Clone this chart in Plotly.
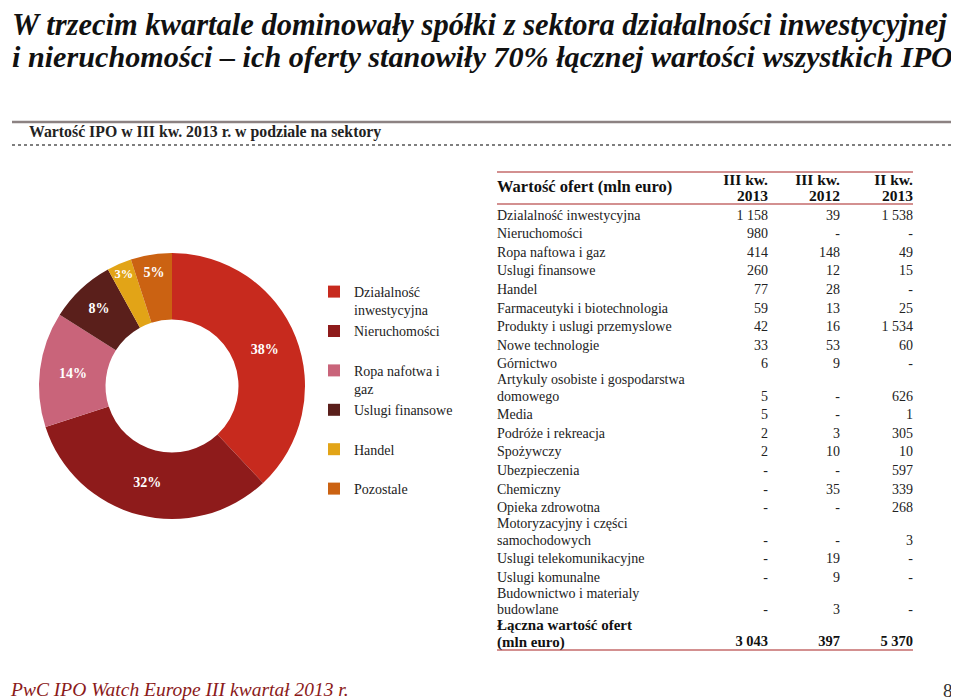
import plotly.graph_objects as go

# ---------------- data ----------------
pie_sectors = ["Działalność inwestycyjna", "Nieruchomości", "Ropa nafotwa i gaz",
               "Uslugi finansowe", "Handel", "Pozostale"]
pie_legend_text = ["Działalność<br>inwestycyjna", "Nieruchomości<br>\u00a0", "Ropa nafotwa i<br>gaz",
                   "Uslugi finansowe<br>\u00a0", "Handel<br>\u00a0", "Pozostale<br>\u00a0"]
pie_share = [38, 32, 14, 8, 3, 5]
pie_colors = ["#C72A1E", "#8E1B1B", "#C9647A", "#5A1F1B", "#E2A417", "#CB6212"]

table_sectors = [
    "Dzialalność inwestycyjna", "Nieruchomości", "Ropa naftowa i gaz", "Uslugi finansowe",
    "Handel", "Farmaceutyki i biotechnologia", "Produkty i uslugi przemyslowe",
    "Nowe technologie", "Górnictwo", "Artykuly osobiste i gospodarstwa\ndomowego", "Media",
    "Podróże i rekreacja", "Spożywczy", "Ubezpieczenia", "Chemiczny", "Opieka zdrowotna",
    "Motoryzacyjny i części\nsamochodowych", "Uslugi telekomunikacyjne", "Uslugi komunalne",
    "Budownictwo i materialy\nbudowlane",
]
q3_2013 = [1158, 980, 414, 260, 77, 59, 42, 33, 6, 5, 5, 2, 2, None, None, None, None, None, None, None]
q3_2012 = [39, None, 148, 12, 28, 13, 16, 53, 9, None, None, 3, 10, None, 35, None, None, 19, 9, 3]
q2_2013 = [1538, None, 49, 15, None, 25, 1534, 60, None, 626, 1, 305, 10, 597, 339, 268, 3, None, None, None]
total_label = "Łączna wartość ofert\n(mln euro)"
totals = [3043, 397, 5370]
col_periods = ["III kw.", "III kw.", "II kw."]
col_years = ["2013", "2012", "2013"]
table_title = "Wartość ofert (mln euro)"

title_lines = ["W trzecim kwartale dominowały spółki z sektora działalności inwestycyjnej",
               "i nieruchomości – ich oferty stanowiły 70% łącznej wartości wszystkich IPO"]
subtitle = "Wartość IPO w III kw. 2013 r. w podziale na sektory"
footer = "PwC IPO Watch Europe III kwartał 2013 r."
page_no = "8"

# ---------------- layout helpers ----------------
W, H = 959, 700
OFF = 8  # page body margin: map window pixels onto the axes
SERIF = "Liberation Serif"
TXT = "#222222"
LINE_RED = "#D39090"


def fmt(v):
    if v is None:
        return "-"
    return f"{v:,}".replace(",", " ")


col_x = [768, 840, 913]
label_x = 497
row_first = 216
row_step = 18.6
extra_line = 13.7
line_h = 16.5

rows_all = table_sectors + [total_label]
last_y = []
y = row_first
for i, lab in enumerate(rows_all):
    n = lab.count("\n") + 1
    if i > 0:
        y = y + row_step + (n - 1) * extra_line
    last_y.append(y)

# split every label into its text lines, each line placed above the row's last line
line_text, line_y, line_bold = [], [], []
for i, (lab, ly) in enumerate(zip(rows_all, last_y)):
    parts = lab.split("\n")
    for k, p in enumerate(parts):
        line_text.append(p)
        line_y.append(ly - (len(parts) - 1 - k) * line_h)
        line_bold.append(i == len(rows_all) - 1)

fig = go.Figure()

# donut
cx, cy, r = 172, 386, 133
fig.add_trace(go.Pie(
    labels=pie_legend_text, values=pie_share, sort=False, direction="clockwise",
    hole=0.5, marker=dict(colors=pie_colors, line=dict(width=0)),
    texttemplate="<b>%{value}%</b>", textposition="inside", insidetextorientation="horizontal",
    textfont=dict(family=SERIF, size=14, color="white"),
    domain=dict(x=[(cx - OFF - r) / W, (cx - OFF + r) / W],
                y=[(H - (cy - OFF) - r) / H, (H - (cy - OFF) + r) / H]),
    showlegend=True, hoverinfo="label+percent",
))

BODY = 14
BOLD = 14.5
body_n = len(table_sectors)
fig.add_trace(go.Scatter(
    x=[label_x] * sum(1 for b in line_bold if not b),
    y=[yy for yy, b in zip(line_y, line_bold) if not b], mode="text",
    text=[t for t, b in zip(line_text, line_bold) if not b], textposition="middle right",
    textfont=dict(family=SERIF, size=BODY, color=TXT), showlegend=False, hoverinfo="skip",
))
fig.add_trace(go.Scatter(
    x=[label_x] * sum(1 for b in line_bold if b),
    y=[yy for yy, b in zip(line_y, line_bold) if b], mode="text",
    text=["<b>" + t + "</b>" for t, b in zip(line_text, line_bold) if b], textposition="middle right",
    textfont=dict(family=SERIF, size=15, color="#111111"), showlegend=False, hoverinfo="skip",
))
for cx_, col in zip(col_x, [q3_2013, q3_2012, q2_2013]):
    fig.add_trace(go.Scatter(
        x=[cx_] * body_n, y=last_y[:body_n], mode="text",
        text=[fmt(v) for v in col], textposition="middle left",
        textfont=dict(family=SERIF, size=BODY, color=TXT), showlegend=False, hoverinfo="skip",
    ))
fig.add_trace(go.Scatter(
    x=col_x, y=[last_y[-1]] * 3, mode="text",
    text=["<b>" + fmt(v) + "</b>" for v in totals], textposition="middle left",
    textfont=dict(family=SERIF, size=BOLD, color="#111111"), showlegend=False, hoverinfo="skip",
))
fig.add_trace(go.Scatter(
    x=col_x, y=[181.5] * 3, mode="text", text=["<b>" + p + "</b>" for p in col_periods],
    textposition="middle left", textfont=dict(family=SERIF, size=15.5, color="#111111"),
    showlegend=False, hoverinfo="skip",
))
fig.add_trace(go.Scatter(
    x=col_x, y=[197] * 3, mode="text", text=["<b>" + p + "</b>" for p in col_years],
    textposition="middle left", textfont=dict(family=SERIF, size=15.5, color="#111111"),
    showlegend=False, hoverinfo="skip",
))
fig.add_trace(go.Scatter(
    x=[label_x], y=[188], mode="text", text=["<b>" + table_title + "</b>"],
    textposition="middle right", textfont=dict(family=SERIF, size=16.5, color="#111111"),
    showlegend=False, hoverinfo="skip",
))

shapes = [
    dict(type="line", x0=3, x1=400, y0=4, y1=4, line=dict(color="#C8392B", width=2)),
    dict(type="line", x0=4, x1=4, y0=4, y1=22, line=dict(color="#C8392B", width=2)),
    dict(type="line", x0=12, x1=955, y0=122, y1=122, line=dict(color="#8C8282", width=2.5)),
    dict(type="line", x0=12, x1=955, y0=145, y1=145, line=dict(color="#555555", width=1.5, dash="dot")),
    dict(type="line", x0=label_x, x1=col_x[-1], y0=172, y1=172, line=dict(color=LINE_RED, width=2)),
    dict(type="line", x0=label_x, x1=col_x[-1], y0=204, y1=204, line=dict(color=LINE_RED, width=2)),
    dict(type="line", x0=label_x, x1=col_x[-1], y0=650, y1=650, line=dict(color=LINE_RED, width=2)),
]
for s in shapes:
    s.update(xref="x", yref="y", layer="below")

annotations = [
    dict(x=10, y=25, text="<b><i>" + title_lines[0] + "</i></b>", xanchor="left", yanchor="middle",
         font=dict(family=SERIF, size=30.5, color="#111111")),
    dict(x=10, y=57, text="<b><i>" + title_lines[1] + "</i></b>", xanchor="left", yanchor="middle",
         font=dict(family=SERIF, size=30.2, color="#111111")),
    dict(x=27, y=132, text="<b>" + subtitle + "</b>", xanchor="left", yanchor="middle",
         font=dict(family=SERIF, size=15.8, color="#222222")),
    dict(x=8, y=689, text="<i>" + footer + "</i>", xanchor="left", yanchor="middle",
         font=dict(family=SERIF, size=19.5, color="#8B1A1A")),
    dict(x=955, y=690, text=page_no, xanchor="right", yanchor="middle",
         font=dict(family=SERIF, size=19, color="#333333")),
]
for a in annotations:
    a.update(xref="x", yref="y", showarrow=False)

fig.update_layout(
    width=W, height=H, margin=dict(l=0, r=0, t=0, b=0),
    paper_bgcolor="white", plot_bgcolor="white",
    xaxis=dict(range=[OFF, W + OFF], visible=False, fixedrange=True, domain=[0, 1]),
    yaxis=dict(range=[H + OFF, OFF], visible=False, fixedrange=True, domain=[0, 1]),
    shapes=shapes, annotations=annotations,
    legend=dict(x=(314 - OFF) / W, y=1 - (276 - OFF) / H, xanchor="left", yanchor="top",
                font=dict(family=SERIF, size=14, color=TXT), valign="top", itemwidth=30,
                bgcolor="rgba(0,0,0,0)", itemclick=False, itemdoubleclick=False,
                tracegroupgap=0),
    showlegend=True,
)

fig.write_html("out.html")
